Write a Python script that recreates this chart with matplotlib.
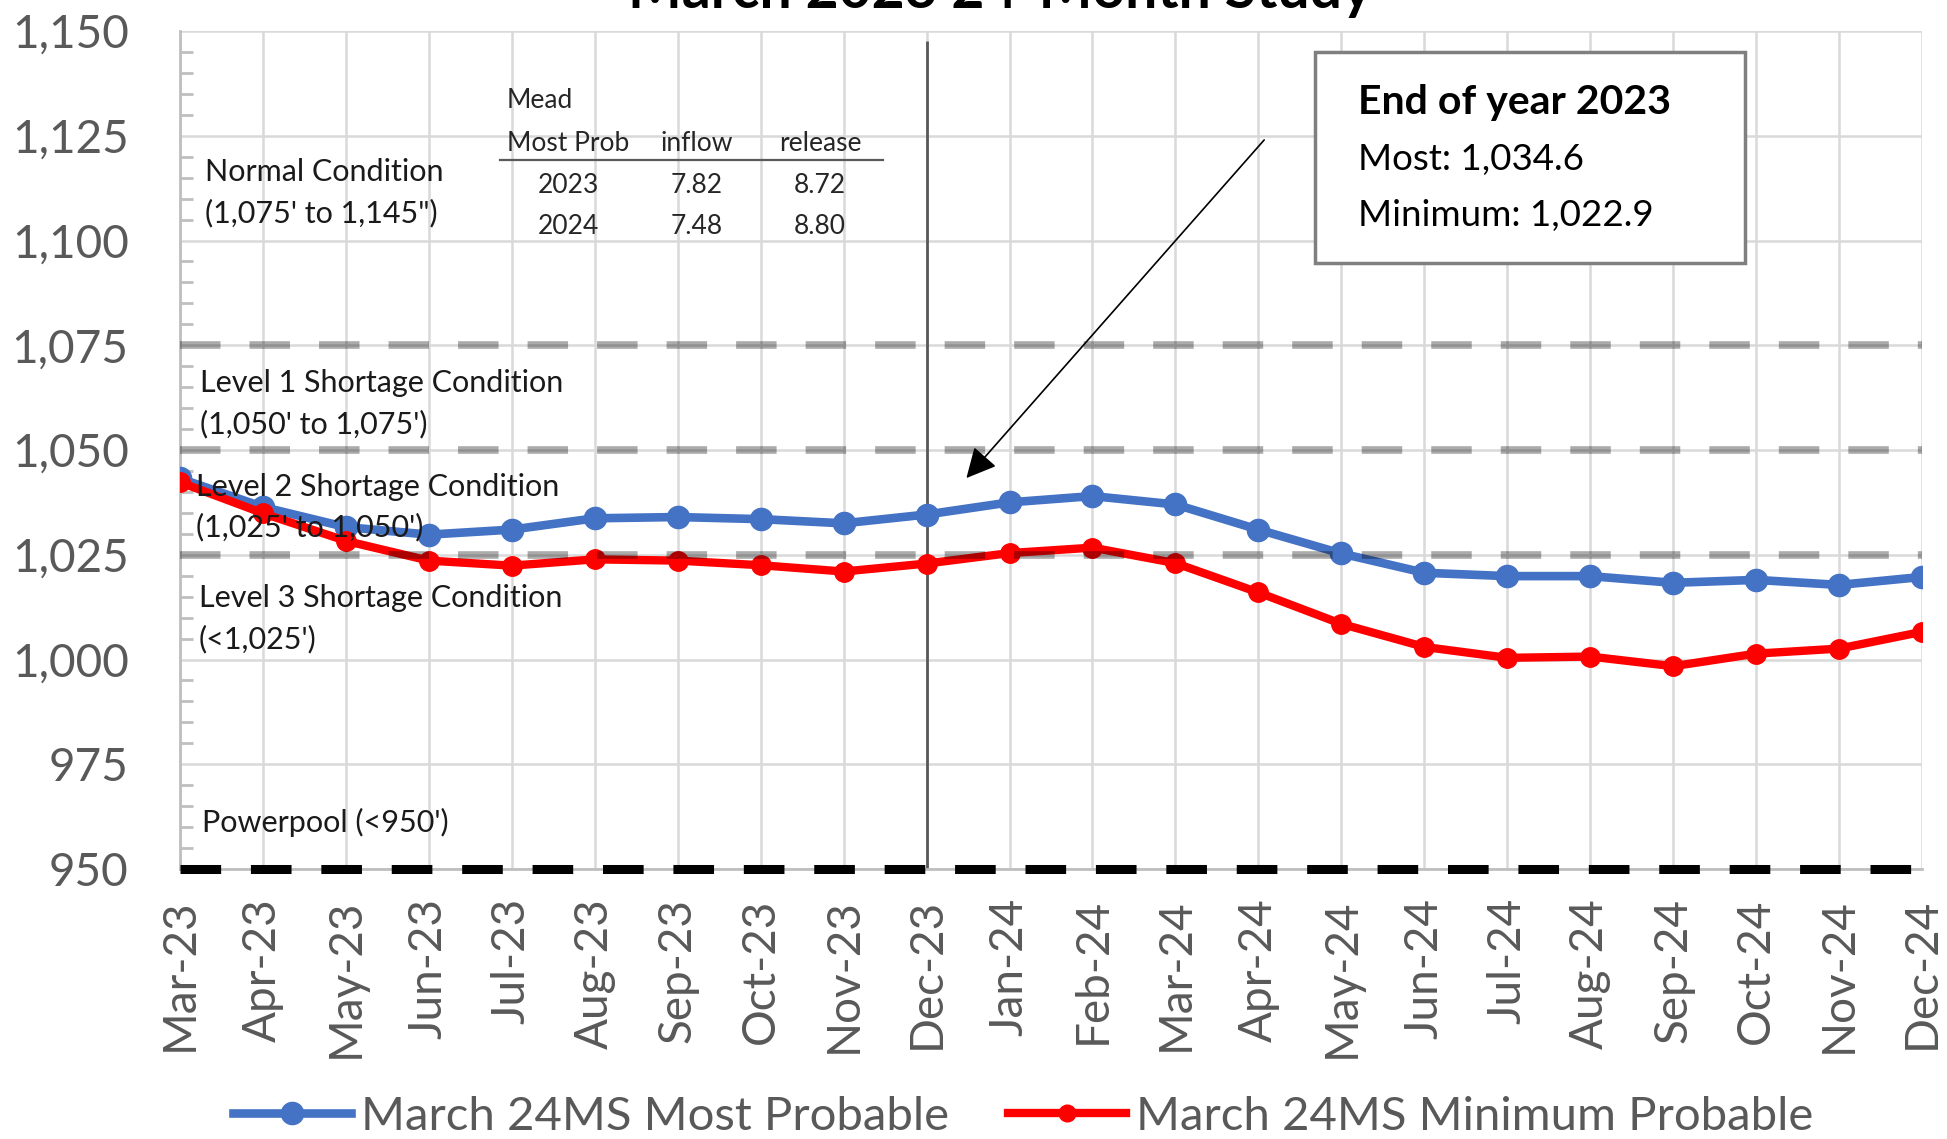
import matplotlib
matplotlib.use("Agg")
import matplotlib.pyplot as plt
from matplotlib.lines import Line2D
from matplotlib.patches import Rectangle
from matplotlib.ticker import MultipleLocator, FuncFormatter

plt.rcParams['font.family'] = ['Lato', 'DejaVu Sans']

# ---------------- data ----------------
months = ['Mar-23', 'Apr-23', 'May-23', 'Jun-23', 'Jul-23', 'Aug-23', 'Sep-23',
          'Oct-23', 'Nov-23', 'Dec-23', 'Jan-24', 'Feb-24', 'Mar-24', 'Apr-24',
          'May-24', 'Jun-24', 'Jul-24', 'Aug-24', 'Sep-24', 'Oct-24', 'Nov-24',
          'Dec-24']
most_probable = [1043.2, 1036.4, 1031.6, 1029.8, 1031.0, 1033.7, 1034.0,
                 1033.5, 1032.5, 1034.6, 1037.5, 1039.0, 1037.0, 1031.0,
                 1025.3, 1020.7, 1019.9, 1019.9, 1018.3, 1019.0, 1017.8,
                 1019.7]
min_probable = [1042.3, 1034.9, 1028.3, 1023.6, 1022.4, 1023.9, 1023.6,
                1022.5, 1021.0, 1022.9, 1025.4, 1026.7, 1023.0, 1016.0,
                1008.5, 1003.0, 1000.4, 1000.7, 998.4, 1001.4, 1002.6,
                1006.6]
series_names = ['March 24MS Most Probable', 'March 24MS Minimum Probable']
shortage_levels = [1075, 1050, 1025]
powerpool_level = 950
table_years = ['2023', '2024']
table_inflow = ['7.82', '7.48']
table_release = ['8.72', '8.80']
end_year_label = 'Dec-23'

# ---------------- figure ----------------
W, H = 1947, 1139
fig = plt.figure(figsize=(W / 100, H / 100), dpi=100)
ax = fig.add_axes([180 / W, 1 - 869 / H, 1742 / W, 838 / H])

x = list(range(len(months)))
ax.set_xlim(0, len(months) - 1)
ax.set_ylim(950, 1150)

GRID = '#d9d9d9'
TXT = '#595959'
BLUE = '#4472C4'
RED = '#FF0000'

ax.set_xticks(x)
ax.set_xticklabels(months, rotation=90, fontsize=33, color=TXT)
ax.yaxis.set_major_locator(MultipleLocator(25))
ax.yaxis.set_minor_locator(MultipleLocator(5))
ax.yaxis.set_major_formatter(FuncFormatter(lambda v, p: f'{int(v):,}'))
ax.tick_params(axis='y', which='major', labelsize=33, labelcolor=TXT,
               length=0, pad=37)
ax.tick_params(axis='y', which='minor', direction='in', length=9,
               width=2, color='#bfbfbf')
ax.tick_params(axis='x', length=0, pad=21)

ax.grid(True, which='major', color=GRID, lw=1.8, zorder=0)
for s in ['top', 'right']:
    ax.spines[s].set_visible(False)
for s in ['left', 'bottom']:
    ax.spines[s].set_color('#bfbfbf')
    ax.spines[s].set_linewidth(2)

# series
ax.plot(x, most_probable, color=BLUE, lw=6.2, marker='o', markersize=16,
        zorder=3, label=series_names[0])
ax.plot(x, min_probable, color=RED, lw=6.0, marker='o', markersize=14,
        zorder=4, label=series_names[1])

# threshold lines
for lvl in shortage_levels:
    ax.axhline(lvl, color='black', alpha=0.33, lw=5.5, dashes=(5.3, 3.8),
               zorder=5)
ax.axhline(powerpool_level, color='black', lw=6.5, dashes=(4.5, 3.3),
           zorder=6, clip_on=False)

# end-of-year vertical line
xi = months.index(end_year_label)
ax.vlines(xi, 950, 1147.5, color='#595959', lw=2, zorder=2)

# condition labels
cond_kw = dict(transform=ax.transAxes, fontsize=22, color='#1a1a1a',
               va='center', ha='left', zorder=7)
ax.text(0.0144, 0.832, 'Normal Condition', **cond_kw)
ax.text(0.0144, 0.783, "(1,075' to 1,145\")", **cond_kw)
ax.text(0.0115, 0.5803, 'Level 1 Shortage Condition', **cond_kw)
ax.text(0.0115, 0.5314, "(1,050' to 1,075')", **cond_kw)
ax.text(0.0092, 0.4562, 'Level 2 Shortage Condition', **cond_kw)
ax.text(0.0092, 0.4085, "(1,025' to 1,050')", **cond_kw)
ax.text(0.0109, 0.3238, 'Level 3 Shortage Condition', **cond_kw)
ax.text(0.0109, 0.2748, "(<1,025')", **cond_kw)
ax.text(0.0126, 0.0553, "Powerpool (<950')", **cond_kw)

# table
ax.add_patch(Rectangle((0.1711, 0.7327), 0.4208 - 0.1711, 0.951 - 0.7327,
                       transform=ax.transAxes, facecolor='white',
                       edgecolor='none', zorder=1.5))
tkw = dict(transform=ax.transAxes, fontsize=19, color='#262626',
           va='center', zorder=7)
ax.text(0.1877, 0.917, 'Mead', ha='left', **tkw)
ax.text(0.1877, 0.866, 'Most Prob', ha='left', **tkw)
ax.text(0.2968, 0.866, 'inflow', ha='center', **tkw)
ax.text(0.3674, 0.866, 'release', ha='center', **tkw)
ax.plot([0.1837, 0.4036], [0.846, 0.846], transform=ax.transAxes,
        color='#595959', lw=1.6, zorder=7)
for yy, yr, inf, rel in zip([0.816, 0.767], table_years, table_inflow,
                            table_release):
    ax.text(0.2227, yy, yr, ha='center', **tkw)
    ax.text(0.2968, yy, inf, ha='center', **tkw)
    ax.text(0.3674, yy, rel, ha='center', **tkw)

# annotation box
ax.add_patch(Rectangle((0.6516, 0.7232), 0.8984 - 0.6516, 0.975 - 0.7232,
                       transform=ax.transAxes, facecolor='white',
                       edgecolor='#7f7f7f', lw=2.5, zorder=8))
akw = dict(transform=ax.transAxes, color='black',
           va='center', ha='left', zorder=9)
ax.text(0.6762, 0.9147, 'End of year 2023', fontweight='bold', fontsize=29.5,
        **akw)
ax.text(0.6762, 0.8466, f'Most: {most_probable[xi]:,.1f}', fontsize=26.5,
        **akw)
ax.text(0.6762, 0.7798, f'Minimum: {min_probable[xi]:,.1f}', fontsize=26.5,
        **akw)

ax.annotate('', xy=(9.48, 1043.3), xytext=(13.07, 1124),
            arrowprops=dict(arrowstyle='-|>', mutation_scale=46, lw=1.2,
                            color='black', shrinkA=0, shrinkB=0),
            zorder=9)

# title (partly cut off at top as in the reference)
fig.text(0.5135, 1 - 8 / H, 'March 2023 24-Month Study', fontsize=41,
         fontweight='bold', ha='center', va='baseline', color='black')

# legend
handles = [Line2D([0], [0], color=BLUE, lw=6.2, marker='o', markersize=16),
           Line2D([0], [0], color=RED, lw=6.0, marker='o', markersize=12)]
leg = fig.legend(handles, series_names, loc='center',
                 bbox_to_anchor=(0.5255, 1 - 1117 / H), ncol=2, frameon=False,
                 fontsize=34, handlelength=2.5, handletextpad=0.2,
                 columnspacing=1.25, borderaxespad=0, borderpad=0)
for t in leg.get_texts():
    t.set_color(TXT)

fig.savefig('out.png', dpi=100, facecolor='white')
